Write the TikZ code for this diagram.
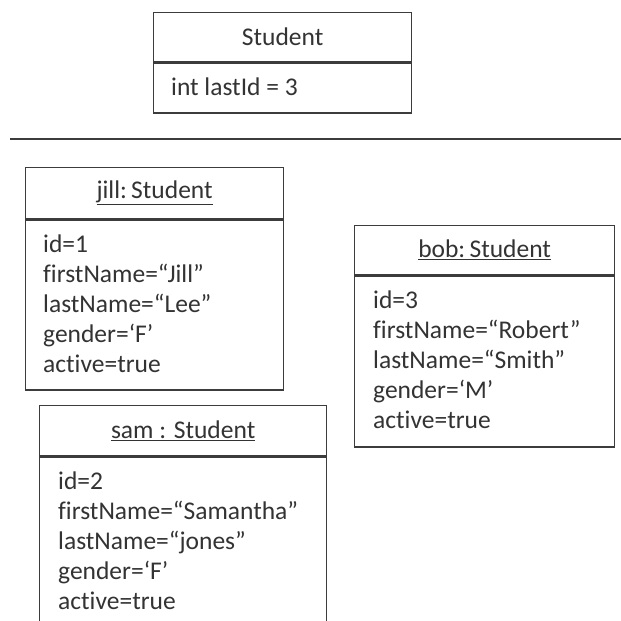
\documentclass[tikz,border=0pt]{standalone}
\usepackage{fontspec}
\setmainfont{Carlito}[Ligatures={NoCommon}]
\usetikzlibrary{positioning}
\definecolor{umlline}{HTML}{3C3C3C}
\definecolor{umltext}{HTML}{333333}
\tikzset{
  umlfont/.style={font=\fontsize{25.5}{30}\selectfont, text=umltext},
  objhead/.style={draw=umlline, line width=1.3pt, anchor=north west, inner sep=0pt, umlfont},
  objbody/.style={draw=umlline, line width=1.3pt, anchor=north, inner sep=0pt},
  objattr/.style={inner sep=0pt, align=left, umlfont},
}
\begin{document}
\begin{tikzpicture}[x=1pt,y=-1pt]
\useasboundingbox[fill=white] (0,0) rectangle (621,621);

% class
\node[objhead, minimum width=258, minimum height=49] (classhd) at (153,12) {Student};
\node[objbody, minimum width=258, minimum height=50] (classbd) at (classhd.south) {};
\node[objattr, below right=15pt and 18pt of classbd.north west] (classattr) {int lastId = 3};

% separator
\coordinate (sepL) at (10,139);
\coordinate (sepR) at (621,139);
\draw[umlline, line width=1.6pt] (sepL) -- (sepR);

% objects
\node[objhead, minimum width=258, minimum height=51] (jillhd) at (25,167) {\underline{jill:\,Student}};
\node[objbody, minimum width=258, minimum height=170] (jillbd) at (jillhd.south) {};
\node[objattr, below right=15pt and 18pt of jillbd.north west] (jillattr)
  {id=1\\firstName=“Jill”\\lastName=“Lee”\\gender=‘F’\\active=true};

\node[objhead, minimum width=260, minimum height=49] (bobhd) at (354,225) {\underline{bob:\,Student}};
\node[objbody, minimum width=260, minimum height=171] (bobbd) at (bobhd.south) {};
\node[objattr, below right=15pt and 19pt of bobbd.north west] (bobattr)
  {id=3\\firstName=“Robert”\\lastName=“Smith”\\gender=‘M’\\active=true};

\node[objhead, minimum width=287, minimum height=50] (samhd) at (39,405) {\underline{sam : Student}};
\node[objbody, minimum width=287, minimum height=190] (sambd) at (samhd.south) {};
\node[objattr, below right=15pt and 19pt of sambd.north west] (samattr)
  {id=2\\firstName=“Samantha”\\lastName=“jones”\\gender=‘F’\\active=true};
\end{tikzpicture}
\end{document}
